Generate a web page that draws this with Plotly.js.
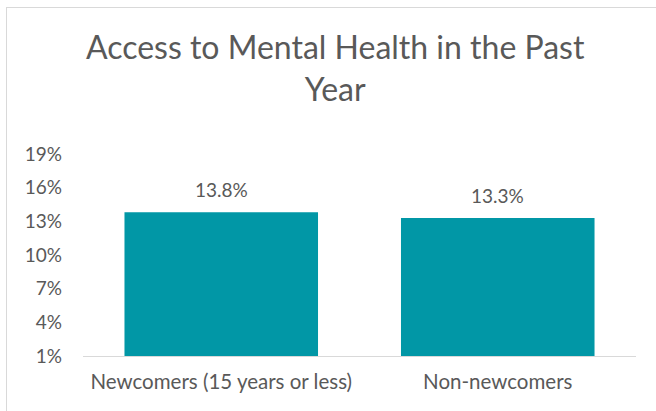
<!DOCTYPE html>
<html>
<head>
<meta charset="utf-8">
<script src="https://cdn.plot.ly/plotly-3.0.1.min.js"></script>
<style>
  html, body { margin: 0; padding: 0; background: #fff; }
  #wrap { position: relative; width: 656px; height: 411px; overflow: hidden; }
  #chart { width: 656px; height: 411px; }
  #frame { position: absolute; left: 6px; top: 7px; width: 700px; height: 450px;
           border: 1px solid #d9d9d9; pointer-events: none; box-sizing: border-box; }
</style>
</head>
<body>
<div id="wrap">
  <div id="chart"></div>
  <div id="frame"></div>
</div>
<script>
const categories = ["Newcomers (15 years or less)", "Non-newcomers"];
const values = [0.138, 0.133];
const valueLabels = ["13.8%", "13.3%"];
const tickValues = [0.01, 0.04, 0.07, 0.10, 0.13, 0.16, 0.19];
const tickLabels = ["1%", "4%", "7%", "10%", "13%", "16%", "19%"];
const chartTitle = "Access to Mental Health in the Past<br>Year";

const fontFam = "Lato, 'Open Sans', sans-serif";
const textColor = "#595959";

const labelAnnotations = categories.map((c, i) => ({
  x: c, y: values[i], xref: "x", yref: "y",
  text: valueLabels[i], showarrow: false,
  yanchor: "bottom", yshift: 9,
  font: { family: fontFam, size: 19, color: textColor }
}));

Plotly.newPlot("chart", [{
  type: "bar",
  x: categories,
  y: values,
  marker: { color: "#0197A6" },
  hoverinfo: "skip"
}], {
  width: 656, height: 411,
  margin: { l: 83, r: 20, t: 154, b: 55 },
  paper_bgcolor: "#ffffff",
  plot_bgcolor: "#ffffff",
  showlegend: false,
  bargap: 0.3,
  annotations: labelAnnotations,
  title: {
    text: chartTitle,
    x: 0.511, xanchor: "center",
    y: 0.856, yanchor: "top",
    font: { family: fontFam, size: 32, color: textColor }
  },
  xaxis: {
    showline: true, linecolor: "#d9d9d9", linewidth: 1,
    ticks: "", showgrid: false, zeroline: false,
    ticklabelstandoff: 7,
    tickfont: { family: fontFam, size: 20.5, color: textColor }
  },
  yaxis: {
    range: [0.01, 0.19],
    tickvals: tickValues, ticktext: tickLabels,
    showgrid: false, zeroline: false, showline: false, ticks: "",
    ticklabelstandoff: 20,
    tickfont: { family: fontFam, size: 19, color: textColor }
  }
}, { staticPlot: true });
</script>
</body>
</html>
